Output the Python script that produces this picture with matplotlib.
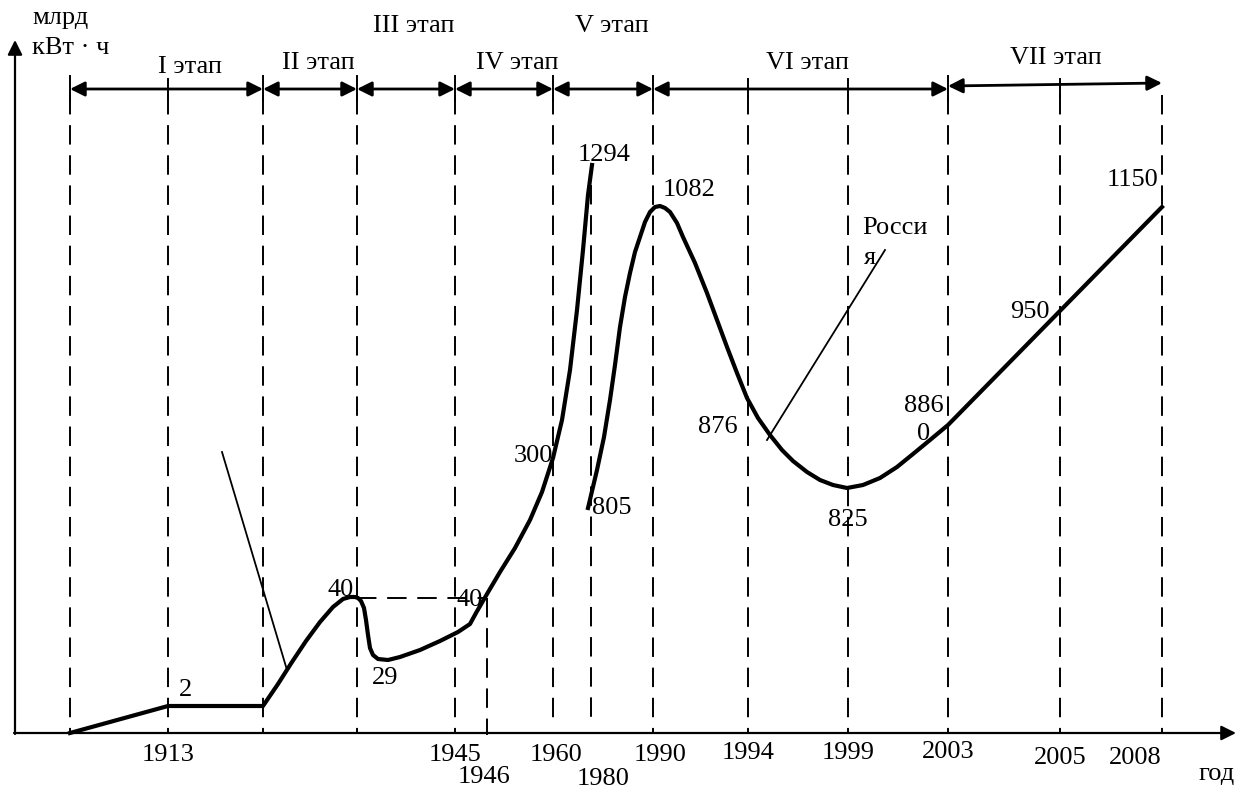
import matplotlib

matplotlib.use("Agg")

import matplotlib.pyplot as plt

plt.rcParams["font.family"] = ["Liberation Serif", "DejaVu Serif"]

W, H = 1250, 791

# stage boundaries along the top arrow row (schematic x positions)
STAGE_BOUNDS = [70, 263, 357, 455, 553, 653, 948, 1162]
STAGE_NAMES = ["I этап", "II этап", "III этап", "IV этап", "V этап", "VI этап", "VII этап"]
STAGE_LABEL_POS = [(190, 67), (318, 63), (414, 26), (517, 63), (612, 26), (808, 63), (1056, 58)]

# vertical dashed guide lines: x, top, bottom
GUIDE_X = [70, 168, 263, 357, 455, 487, 553, 591, 653, 748, 848, 948, 1060, 1162]
GUIDE_TOP = [95, 95, 95, 95, 95, 598, 95, 185, 95, 95, 95, 95, 95, 95]
GUIDE_BOTTOM = [733, 733, 733, 733, 733, 735, 725, 725, 733, 733, 733, 733, 733, 733]
INNER_TICKS = [168, 748, 848, 1060]

# year labels under the axis
YEARS = ["1913", "1945", "1946", "1960", "1980", "1990", "1994", "1999", "2003", "2005", "2008"]
YEAR_POS = [(168, 755), (455, 755), (484, 777), (556, 755), (603, 779), (660, 755),
            (748, 753), (848, 753), (948, 752), (1060, 758), (1135, 758)]

# production curve, first part (to 1980 peak of 1294)
CURVE_A_X = [70, 168, 263, 278, 292, 306, 320, 333, 343, 350, 355, 358, 361, 364, 366, 368,
             370, 373, 378, 388, 400, 420, 440, 458, 470, 476, 487, 500, 515, 530, 542, 553,
             562, 570, 577, 583, 588, 592]
CURVE_A_Y = [733, 706, 706, 684, 662, 641, 622, 607, 599, 597, 597, 598, 601, 608, 620, 635,
             648, 655, 659, 660, 657, 650, 641, 632, 624, 613, 594, 572, 548, 520, 492, 458,
             420, 370, 310, 250, 195, 165]

# second part (from 805 through 1082, 825 and on to 1150)
CURVE_B_X = [588, 597, 604, 610, 615, 620, 625, 630, 635, 640, 645, 650, 655, 660, 665, 670,
             677, 683, 695, 707, 717, 727, 737, 747, 758, 770, 782, 793, 807, 820, 833, 847,
             863, 880, 897, 913, 930, 948, 1162]
CURVE_B_Y = [508, 470, 437, 400, 365, 327, 297, 273, 252, 237, 222, 212, 207, 206, 208, 212,
             223, 237, 263, 293, 320, 347, 373, 398, 418, 435, 450, 461, 472, 480, 485, 488,
             485, 478, 467, 454, 440, 425, 207]

VALUE_LABELS = ["2", "40", "29", "40", "300", "1294", "805", "1082", "876", "825", "886\n0", "950", "1150"]
VALUE_POS = [(185, 690), (341, 590), (385, 678), (470, 600), (533, 456), (604, 155), (612, 508),
             (689, 190), (718, 427), (848, 520), (924, 420), (1030, 312), (1133, 180)]

# thin leader lines
LEADER_X = [[222, 287], [767, 885]]
LEADER_Y = [[452, 670], [440, 250]]

FS = 19


def main() -> None:
    fig = plt.figure(figsize=(W / 100, H / 100), dpi=100)
    ax = fig.add_axes([0, 0, 1, 1])
    ax.set_xlim(0, W)
    ax.set_ylim(H, 0)
    ax.axis("off")

    # axes with arrows
    ax.annotate("", xy=(1236, 733), xytext=(14, 733),
                arrowprops=dict(arrowstyle="-|>", lw=1.6, color="black", mutation_scale=22,
                                shrinkA=0, shrinkB=0))
    ax.annotate("", xy=(15, 40), xytext=(15, 734),
                arrowprops=dict(arrowstyle="-|>", lw=1.6, color="black", mutation_scale=22,
                                shrinkA=0, shrinkB=0))

    # dashed guides
    for x, y0, y1 in zip(GUIDE_X, GUIDE_TOP, GUIDE_BOTTOM):
        ax.plot([x, x], [y0, y1], color="black", lw=1.4, linestyle=(0, (10, 5.5)))

    # stage arrows
    for i, (a, b) in enumerate(zip(STAGE_BOUNDS[:-1], STAGE_BOUNDS[1:])):
        ya, yb = (89, 89) if i < len(STAGE_NAMES) - 1 else (86, 83)
        ax.annotate("", xy=(b, yb), xytext=(a, ya),
                    arrowprops=dict(arrowstyle="<|-|>", lw=2, color="black", mutation_scale=22,
                                    shrinkA=0, shrinkB=0))
    for x in STAGE_BOUNDS[:-1]:
        ax.plot([x, x], [76, 101], color="black", lw=1.4)
    for x in INNER_TICKS:
        ax.plot([x, x], [79, 97], color="black", lw=1.4)
    for name, (x, y) in zip(STAGE_NAMES, STAGE_LABEL_POS):
        ax.text(x, y, name, fontsize=FS, ha="center", va="center")

    # curves
    ax.plot(CURVE_A_X, CURVE_A_Y, color="black", lw=3, solid_joinstyle="round")
    ax.plot(CURVE_B_X, CURVE_B_Y, color="black", lw=3, solid_joinstyle="round")
    ax.plot([357, 487], [598, 598], color="black", lw=1.4, linestyle=(0, (10, 5.5)))
    for xs, ys in zip(LEADER_X, LEADER_Y):
        ax.plot(xs, ys, color="black", lw=1.3)

    for lab, (x, y) in zip(VALUE_LABELS, VALUE_POS):
        ax.text(x, y, lab, fontsize=FS, ha="center", va="center", linespacing=1.3)
    ax.text(862, 228, "Росси", fontsize=FS, ha="left", va="center")
    ax.text(864, 258, "я", fontsize=FS, ha="left", va="center")

    for lab, (x, y) in zip(YEARS, YEAR_POS):
        ax.text(x, y, lab, fontsize=FS, ha="center", va="center")

    ax.text(32, 18, "млрд", fontsize=FS, ha="left", va="center")
    ax.text(32, 48, "кВт · ч", fontsize=FS, ha="left", va="center")
    ax.text(1217, 774, "год", fontsize=FS, ha="center", va="center")

    fig.savefig("out.png", dpi=100)
    plt.close(fig)


if __name__ == "__main__":
    main()
